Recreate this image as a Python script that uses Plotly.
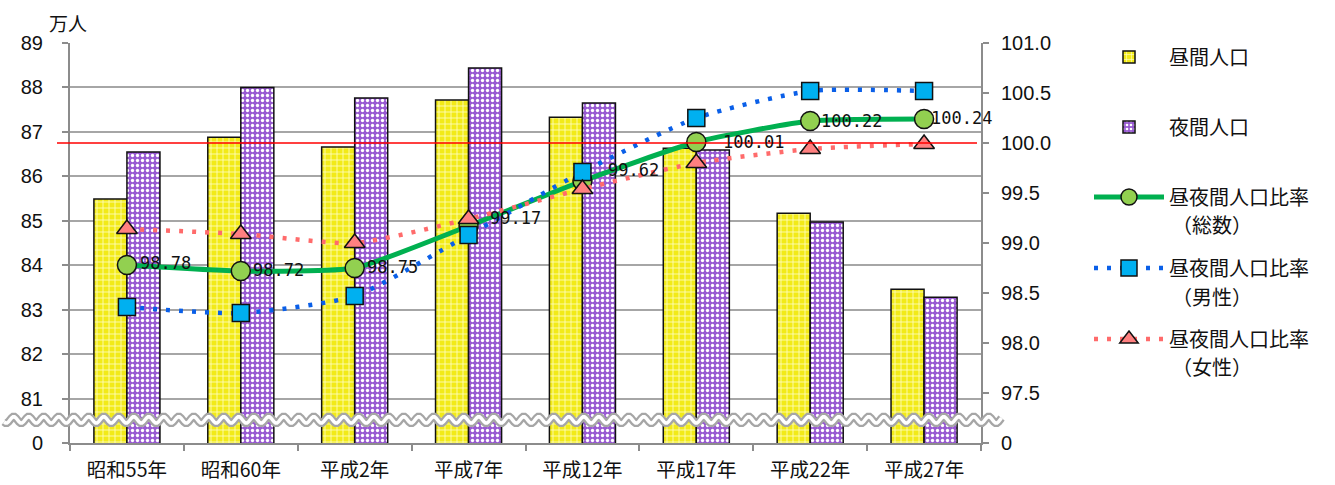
import numpy as np
import plotly.graph_objects as go

# 年次区分
categories = ["昭和55年", "昭和60年", "平成2年", "平成7年", "平成12年", "平成17年", "平成22年", "平成27年"]

# 昼間人口・夜間人口（万人）
daytime_pop = [85.49, 86.88, 86.66, 87.72, 87.33, 86.63, 85.17, 83.46]
night_pop = [86.55, 88.00, 87.76, 88.44, 87.65, 86.59, 84.97, 83.28]

# 昼夜間人口比率
ratio_total = [98.78, 98.72, 98.75, 99.17, 99.62, 100.01, 100.22, 100.24]
ratio_male = [98.36, 98.30, 98.47, 99.08, 99.71, 100.25, 100.52, 100.52]
ratio_female = [99.14, 99.09, 99.00, 99.24, 99.54, 99.80, 99.94, 99.99]

# 軸目盛（下端は省略記号付きの 0）
left_tickvals = [80, 81, 82, 83, 84, 85, 86, 87, 88, 89]
left_ticktext = ["0", "81", "82", "83", "84", "85", "86", "87", "88", "89"]
right_tickvals = [97.0, 97.5, 98.0, 98.5, 99.0, 99.5, 100.0, 100.5, 101.0]
right_ticktext = ["0", "97.5", "98.0", "98.5", "99.0", "99.5", "100.0", "100.5", "101.0"]

# 凡例の系列名（2 行目は注記で表示）
legend_names = ["昼間人口", "夜間人口", "昼夜間人口比率", "昼夜間人口比率", "昼夜間人口比率"]
legend_subs = ["（総数）", "（男性）", "（女性）"]

# 総数ラベルのずらし量（px）
label_dx = [11, 10, 10, 19, 24, 25, 9, 5]
label_dy = [2, 1, 1, 8, 11, 0, 0, 1]

JP = "Noto Sans CJK JP, Noto Sans, sans-serif"
NUM = "Liberation Sans, Arial, sans-serif"
W, H = 1335, 485
PL, PR, PT, PB = 70, 981, 43, 443          # 描画領域（px）
PW, PH = PR - PL, PB - PT


def px_to_paper(px, py):
    return (px - PL) / PW, (PB - py) / PH


fig = go.Figure()

fig.add_trace(go.Bar(
    x=categories, y=daytime_pop, name=legend_names[0], legend="legend",
    marker=dict(
        color="#F5EE10",
        line=dict(color="#111111", width=1.5),
        pattern=dict(shape="+", fgcolor="#FFFFC8", bgcolor="#F2EA18", size=6, solidity=0.25, fillmode="replace"),
    ),
))
fig.add_trace(go.Bar(
    x=categories, y=night_pop, name=legend_names[1], legend="legend2",
    marker=dict(
        color="#9B5FD6",
        line=dict(color="#111111", width=1.5),
        pattern=dict(shape=".", fgcolor="#FFFFFF", bgcolor="#985AD2", size=5, solidity=0.35, fillmode="replace"),
    ),
))

fig.add_trace(go.Scatter(
    x=categories, y=ratio_total, yaxis="y2", name=legend_names[2], legend="legend3",
    mode="lines+markers",
    line=dict(color="#00B050", width=5, shape="spline", smoothing=0.5),
    marker=dict(symbol="circle", size=19, color="#92D050", line=dict(color="#111111", width=1.5)),
    cliponaxis=False,
))
fig.add_trace(go.Scatter(
    x=categories, y=ratio_male, yaxis="y2", name=legend_names[3], legend="legend4",
    mode="lines+markers",
    line=dict(color="#0A5FE8", width=4.5, dash="4px,9px", shape="spline", smoothing=0.6),
    marker=dict(symbol="square", size=17, color="#00B0F0", line=dict(color="#111111", width=1.5)),
    cliponaxis=False,
))
fig.add_trace(go.Scatter(
    x=categories, y=ratio_female, yaxis="y2", name=legend_names[4], legend="legend5",
    mode="lines+markers",
    line=dict(color="#FF6B6B", width=4.5, dash="4px,9px", shape="spline", smoothing=0.6),
    marker=dict(symbol="triangle-up", size=18, color="#FF8080", line=dict(color="#111111", width=1.5)),
    cliponaxis=False,
))

# 省略記号（波線）
wx = np.arange(-66, 932, 1.5)
wy = 3.2 * np.sin(2 * np.pi * wx / 15.0)
wave_path = "M " + " L ".join(f"{a:.1f},{b:.2f}" for a, b in zip(wx, wy))

shapes = [
    dict(type="line", xref="paper", yref="y2", x0=px_to_paper(57, 0)[0], x1=px_to_paper(977, 0)[0],
         y0=100, y1=100, line=dict(color="#FF0000", width=1.6), layer="above"),
    dict(type="path", xref="paper", yref="y", xsizemode="pixel", ysizemode="pixel",
         xanchor=0, yanchor=80.52, path=wave_path,
         line=dict(color="#A6A6A6", width=8), layer="above"),
    dict(type="path", xref="paper", yref="y", xsizemode="pixel", ysizemode="pixel",
         xanchor=0, yanchor=80.52, path=wave_path,
         line=dict(color="#FFFFFF", width=3.5), layer="above"),
]

ux, uy = px_to_paper(68, 22)
annotations = [dict(text="万人", xref="paper", yref="paper", x=ux, y=uy,
                    xanchor="center", yanchor="middle", showarrow=False,
                    font=dict(family=JP, size=19, color="#111111"))]

# 総数の値ラベル
for cat, v, dx, dy in zip(categories, ratio_total, label_dx, label_dy):
    annotations.append(dict(
        x=cat, y=v, xref="x", yref="y2", text=f"{v:.2f}", showarrow=False,
        xanchor="left", yanchor="middle", xshift=dx, yshift=dy,
        font=dict(family="DejaVu Sans Mono, monospace", size=17, color="#111111"),
    ))

# 凡例 2 行目
for sub, py in zip(legend_subs, [225, 296, 366]):
    sx, sy = px_to_paper(1170, py)
    annotations.append(dict(
        text=sub, xref="paper", yref="paper", x=sx, y=sy,
        xanchor="left", yanchor="middle", showarrow=False,
        font=dict(family=JP, size=20, color="#111111"),
    ))


def legend_box(py):
    lx, ly = px_to_paper(1089, py)
    return dict(
        x=lx, xanchor="left", y=ly, yanchor="middle",
        font=dict(family=JP, size=20, color="#111111"),
        bgcolor="rgba(255,255,255,0)", itemwidth=70,
    )


axis_common = dict(automargin=False, zeroline=False, showline=True, linecolor="#8C8C8C", linewidth=2,
                   ticks="outside", ticklen=6, tickcolor="#8C8C8C", tickwidth=2)

fig.update_layout(
    width=W, height=H,
    margin=dict(l=PL, r=W - PR, t=PT, b=H - PB, autoexpand=False),
    paper_bgcolor="#FFFFFF", plot_bgcolor="#FFFFFF",
    barmode="group", bargap=0.42, bargroupgap=0,
    showlegend=True,
    legend=legend_box(57),
    legend2=legend_box(127),
    legend3=legend_box(197),
    legend4=legend_box(268),
    legend5=legend_box(339),
    xaxis=dict(
        type="category", range=[-0.5, len(categories) - 0.5], autorange=False,
        showgrid=False, tickson="boundaries", ticklabelstandoff=9,
        tickfont=dict(family=JP, size=19.5, color="#111111"), **axis_common,
    ),
    yaxis=dict(
        range=[80, 89], tickvals=left_tickvals, ticktext=left_ticktext,
        showgrid=True, gridcolor="#A6A6A6", gridwidth=1.5, ticklabelstandoff=15,
        tickfont=dict(family=NUM, size=20, color="#111111"), **axis_common,
    ),
    yaxis2=dict(
        range=[97, 101], tickvals=right_tickvals, ticktext=right_ticktext,
        overlaying="y", side="right", anchor="x", showgrid=False, ticklabelstandoff=8,
        tickfont=dict(family=NUM, size=20, color="#111111"), **axis_common,
    ),
    shapes=shapes,
    annotations=annotations,
)

fig.write_html("out.html")
